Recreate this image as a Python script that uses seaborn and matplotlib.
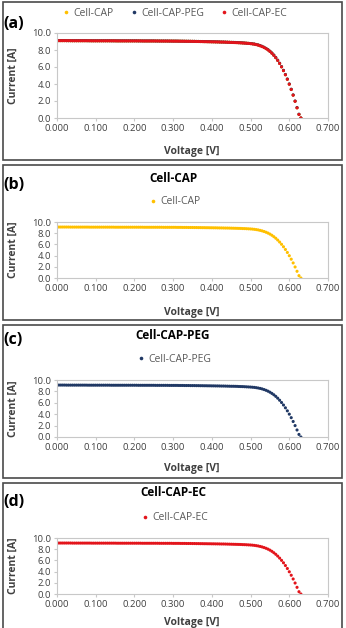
import matplotlib
matplotlib.use("Agg")
import matplotlib.pyplot as plt
import seaborn as sns
import pandas as pd
from matplotlib.lines import Line2D
from matplotlib.patches import Rectangle

# ---------------- data ----------------
voltage = [
    0.000, 0.005, 0.010, 0.015, 0.020, 0.025, 0.030, 0.035, 0.040, 0.045,
    0.050, 0.055, 0.060, 0.065, 0.070, 0.075, 0.080, 0.085, 0.090, 0.095,
    0.100, 0.105, 0.110, 0.115, 0.120, 0.125, 0.130, 0.135, 0.140, 0.145,
    0.150, 0.155, 0.160, 0.165, 0.170, 0.175, 0.180, 0.185, 0.190, 0.195,
    0.200, 0.205, 0.210, 0.215, 0.220, 0.225, 0.230, 0.235, 0.240, 0.245,
    0.250, 0.255, 0.260, 0.265, 0.270, 0.275, 0.280, 0.285, 0.290, 0.295,
    0.300, 0.305, 0.310, 0.315, 0.320, 0.325, 0.330, 0.335, 0.340, 0.345,
    0.350, 0.355, 0.360, 0.365, 0.370, 0.375, 0.380, 0.385, 0.390, 0.395,
    0.400, 0.405, 0.410, 0.415, 0.420, 0.425, 0.430, 0.435, 0.440, 0.445,
    0.450, 0.455, 0.460, 0.465, 0.470, 0.475, 0.480, 0.485, 0.490, 0.495,
    0.500, 0.505, 0.510, 0.515, 0.520, 0.525, 0.530, 0.535, 0.540, 0.545,
    0.550, 0.555, 0.560, 0.565, 0.570, 0.575, 0.580, 0.585, 0.590, 0.595,
    0.600, 0.605, 0.610, 0.615, 0.620, 0.625, 0.630,
]

current_cap = [
    9.10, 9.10, 9.10, 9.10, 9.10, 9.10, 9.10, 9.09, 9.09, 9.09,
    9.09, 9.09, 9.09, 9.09, 9.09, 9.09, 9.09, 9.08, 9.08, 9.08,
    9.08, 9.08, 9.08, 9.08, 9.08, 9.08, 9.08, 9.08, 9.08, 9.08,
    9.07, 9.07, 9.07, 9.07, 9.07, 9.07, 9.07, 9.07, 9.07, 9.07,
    9.07, 9.07, 9.07, 9.07, 9.07, 9.06, 9.06, 9.06, 9.06, 9.06,
    9.06, 9.06, 9.06, 9.06, 9.06, 9.05, 9.05, 9.05, 9.05, 9.05,
    9.05, 9.05, 9.04, 9.04, 9.04, 9.03, 9.03, 9.03, 9.02, 9.02,
    9.02, 9.01, 9.01, 9.00, 9.00, 8.99, 8.99, 8.98, 8.98, 8.97,
    8.97, 8.96, 8.96, 8.95, 8.94, 8.94, 8.93, 8.92, 8.92, 8.91,
    8.90, 8.89, 8.88, 8.87, 8.86, 8.85, 8.83, 8.82, 8.80, 8.78,
    8.76, 8.73, 8.69, 8.64, 8.58, 8.50, 8.41, 8.30, 8.17, 8.02,
    7.84, 7.63, 7.38, 7.10, 6.78, 6.42, 6.02, 5.58, 5.09, 4.56,
    3.98, 3.36, 2.69, 1.97, 1.20, 0.42, 0.00,
]

current_peg = [
    9.11, 9.11, 9.11, 9.11, 9.11, 9.10, 9.10, 9.10, 9.10, 9.10,
    9.10, 9.10, 9.10, 9.10, 9.10, 9.10, 9.09, 9.09, 9.09, 9.09,
    9.09, 9.09, 9.09, 9.09, 9.09, 9.09, 9.09, 9.09, 9.08, 9.08,
    9.08, 9.08, 9.08, 9.08, 9.08, 9.08, 9.08, 9.08, 9.08, 9.08,
    9.08, 9.08, 9.07, 9.07, 9.07, 9.07, 9.07, 9.07, 9.07, 9.07,
    9.07, 9.06, 9.06, 9.06, 9.06, 9.06, 9.06, 9.06, 9.05, 9.05,
    9.05, 9.05, 9.05, 9.04, 9.04, 9.04, 9.03, 9.03, 9.03, 9.02,
    9.02, 9.02, 9.01, 9.01, 9.00, 9.00, 8.99, 8.99, 8.98, 8.98,
    8.97, 8.97, 8.96, 8.96, 8.95, 8.94, 8.94, 8.93, 8.92, 8.91,
    8.90, 8.90, 8.89, 8.88, 8.86, 8.85, 8.84, 8.82, 8.80, 8.78,
    8.76, 8.73, 8.70, 8.65, 8.59, 8.52, 8.43, 8.32, 8.19, 8.04,
    7.86, 7.65, 7.41, 7.13, 6.81, 6.45, 6.05, 5.61, 5.12, 4.59,
    4.01, 3.39, 2.72, 2.00, 1.23, 0.45, 0.00,
]

current_ec = [
    9.10, 9.10, 9.10, 9.10, 9.10, 9.10, 9.10, 9.10, 9.09, 9.09,
    9.09, 9.09, 9.09, 9.09, 9.09, 9.09, 9.09, 9.09, 9.08, 9.08,
    9.08, 9.08, 9.08, 9.08, 9.08, 9.08, 9.08, 9.08, 9.08, 9.08,
    9.08, 9.07, 9.07, 9.07, 9.07, 9.07, 9.07, 9.07, 9.07, 9.07,
    9.07, 9.07, 9.07, 9.07, 9.06, 9.06, 9.06, 9.06, 9.06, 9.06,
    9.06, 9.06, 9.06, 9.05, 9.05, 9.05, 9.05, 9.05, 9.05, 9.05,
    9.04, 9.04, 9.04, 9.04, 9.03, 9.03, 9.03, 9.02, 9.02, 9.02,
    9.01, 9.01, 9.00, 9.00, 8.99, 8.99, 8.98, 8.98, 8.97, 8.97,
    8.96, 8.96, 8.95, 8.95, 8.94, 8.93, 8.93, 8.92, 8.91, 8.90,
    8.89, 8.88, 8.87, 8.86, 8.85, 8.84, 8.82, 8.81, 8.79, 8.77,
    8.75, 8.72, 8.68, 8.63, 8.57, 8.49, 8.40, 8.29, 8.16, 8.01,
    7.83, 7.62, 7.37, 7.09, 6.77, 6.41, 6.01, 5.57, 5.08, 4.55,
    3.97, 3.35, 2.68, 1.96, 1.19, 0.41, 0.00,
]

series_names = ["Cell-CAP", "Cell-CAP-PEG", "Cell-CAP-EC"]
series_colors = ["#FFC000", "#203864", "#E3141B"]
series_currents = [current_cap, current_peg, current_ec]

x_ticks = [0.0, 0.1, 0.2, 0.3, 0.4, 0.5, 0.6, 0.7]
y_ticks = [0.0, 2.0, 4.0, 6.0, 8.0, 10.0]

# ---------------- style ----------------
sns.set_theme(style="white")
plt.rcParams['font.family'] = ['Open Sans', 'DejaVu Sans']

W, H = 346, 628
fig = plt.figure(figsize=(W / 100, H / 100), dpi=100)
fig.patch.set_facecolor("white")


def fx(px):
    return px / W


def fy(py):
    return 1 - py / H


TXT = "#404040"
AX_L, AX_R = 57, 328

panels = [
    dict(label="(a)", label_y=24, title=None, title_y=None, legend_y=13, idx=[0, 1, 2],
         top=33, bottom=118, xlabel_y=152, btop=2, bbot=160),
    dict(label="(b)", label_y=185, title="Cell-CAP", title_y=178, legend_y=202, idx=[0],
         top=222, bottom=278, xlabel_y=312, btop=165, bbot=320),
    dict(label="(c)", label_y=340, title="Cell-CAP-PEG", title_y=335, legend_y=359, idx=[1],
         top=380, bottom=437, xlabel_y=469, btop=325, bbot=478),
    dict(label="(d)", label_y=502, title="Cell-CAP-EC", title_y=493, legend_y=518, idx=[2],
         top=538, bottom=594, xlabel_y=622, btop=483, bbot=660),
]

for p in panels:
    fig.patches.append(Rectangle((fx(2.5), fy(p["bbot"])), fx(339), (p["bbot"] - p["btop"]) / H,
                                 transform=fig.transFigure, fill=False,
                                 edgecolor="#4a4a4a", linewidth=1.2, zorder=0))

    ax = fig.add_axes([fx(AX_L), fy(p["bottom"]), fx(AX_R) - fx(AX_L), (p["bottom"] - p["top"]) / H])
    rows = []
    for i in p["idx"]:
        for v, c in zip(voltage, series_currents[i]):
            rows.append((v, c, series_names[i]))
    df = pd.DataFrame(rows, columns=["Voltage", "Current", "Series"])
    names = [series_names[i] for i in p["idx"]]
    pal = {series_names[i]: series_colors[i] for i in p["idx"]}
    sns.scatterplot(data=df, x="Voltage", y="Current", hue="Series", hue_order=names,
                    palette=pal, s=5, linewidth=0, marker="o", ax=ax, legend=False)

    ax.set_xlim(0, 0.7)
    ax.set_ylim(0, 10)
    ax.set_xticks(x_ticks)
    ax.set_xticklabels([f"{t:.3f}" for t in x_ticks])
    ax.set_yticks(y_ticks)
    ax.set_yticklabels([f"{t:.1f}" for t in y_ticks])
    ax.set_xlabel("")
    ax.set_ylabel("")
    for s in ax.spines.values():
        s.set_color("#C8C8C8")
        s.set_linewidth(0.8)
    ax.tick_params(axis="both", which="both", length=2.5, width=0.8, color="#C8C8C8",
                   labelsize=6.8, labelcolor=TXT, pad=2, direction="out")
    ax.tick_params(axis="x", bottom=True)
    ax.tick_params(axis="y", left=True)
    ax.grid(False)

    fig.text(fx(3), fy(p["label_y"]), p["label"], fontsize=11.5, fontweight="bold",
             color="black", ha="left", va="center")
    if p["title"]:
        fig.text(fx(173), fy(p["title_y"]), p["title"], fontsize=8.5, fontweight="bold",
                 color="black", ha="center", va="center")
    fig.text(fx((AX_L + AX_R) / 2 - 0.5), fy(p["xlabel_y"]), "Voltage [V]", fontsize=7.5,
             fontweight="bold", color=TXT, ha="center", va="center")
    fig.text(fx(13), fy((p["top"] + p["bottom"]) / 2), "Current [A]", fontsize=7.5,
             fontweight="bold", color=TXT, ha="center", va="center", rotation=90)

    handles = [Line2D([0], [0], marker="o", linestyle="", markersize=2.6,
                      markerfacecolor=series_colors[i], markeredgewidth=0) for i in p["idx"]]
    leg = fig.legend(handles, names, loc="center", bbox_to_anchor=(fx(175), fy(p["legend_y"])),
                     bbox_transform=fig.transFigure, ncol=len(names), frameon=False,
                     fontsize=7.5, handlelength=0.6, handletextpad=0.4, columnspacing=1.6,
                     borderpad=0, borderaxespad=0)
    for t in leg.get_texts():
        t.set_color("#595959")

fig.savefig("out.png", dpi=100, facecolor="white")
